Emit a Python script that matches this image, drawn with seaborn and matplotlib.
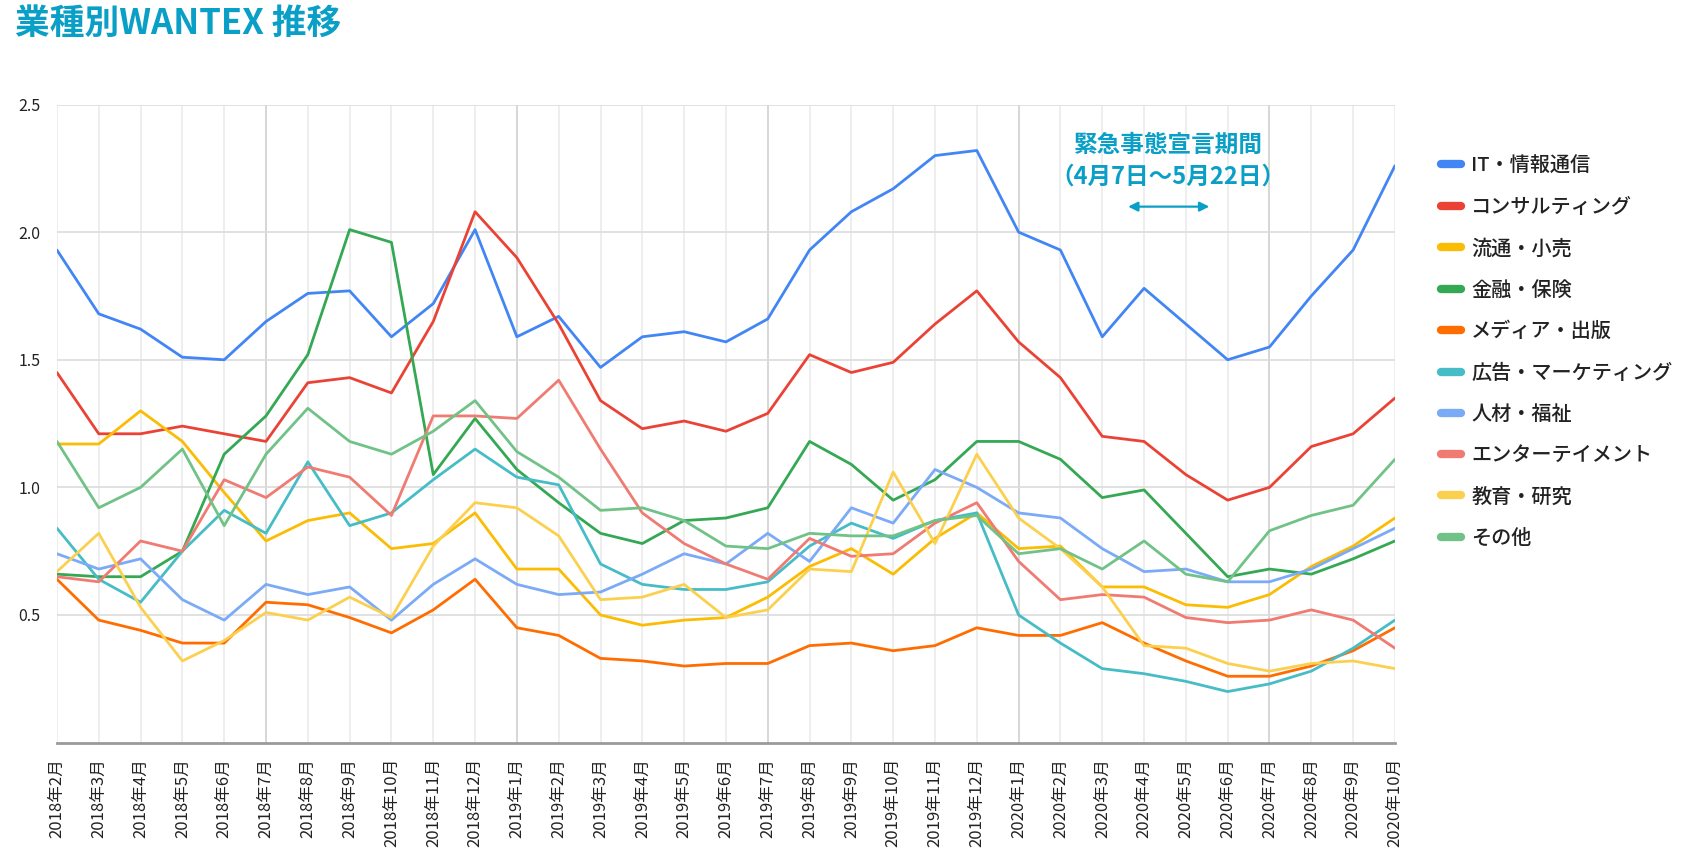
import pandas as pd
import matplotlib.pyplot as plt
import seaborn as sns

# ----------------------------------------------------------
# Data
# ----------------------------------------------------------
months = [
    "2018年2月", "2018年3月", "2018年4月", "2018年5月", "2018年6月", "2018年7月",
    "2018年8月", "2018年9月", "2018年10月", "2018年11月", "2018年12月",
    "2019年1月", "2019年2月", "2019年3月", "2019年4月", "2019年5月", "2019年6月",
    "2019年7月", "2019年8月", "2019年9月", "2019年10月", "2019年11月", "2019年12月",
    "2020年1月", "2020年2月", "2020年3月", "2020年4月", "2020年5月", "2020年6月",
    "2020年7月", "2020年8月", "2020年9月", "2020年10月",
]

it_info = [1.93, 1.68, 1.62, 1.51, 1.50, 1.65, 1.76, 1.77, 1.59, 1.72, 2.01,
           1.59, 1.67, 1.47, 1.59, 1.61, 1.57, 1.66, 1.93, 2.08, 2.17, 2.30, 2.32,
           2.00, 1.93, 1.59, 1.78, 1.64, 1.50, 1.55, 1.75, 1.93, 2.26]
consulting = [1.45, 1.21, 1.21, 1.24, 1.21, 1.18, 1.41, 1.43, 1.37, 1.65, 2.08,
              1.90, 1.64, 1.34, 1.23, 1.26, 1.22, 1.29, 1.52, 1.45, 1.49, 1.64, 1.77,
              1.57, 1.43, 1.20, 1.18, 1.05, 0.95, 1.00, 1.16, 1.21, 1.35]
retail = [1.17, 1.17, 1.30, 1.18, 0.98, 0.79, 0.87, 0.90, 0.76, 0.78, 0.90,
          0.68, 0.68, 0.50, 0.46, 0.48, 0.49, 0.57, 0.69, 0.76, 0.66, 0.80, 0.90,
          0.76, 0.77, 0.61, 0.61, 0.54, 0.53, 0.58, 0.69, 0.77, 0.88]
finance = [0.66, 0.65, 0.65, 0.75, 1.13, 1.28, 1.52, 2.01, 1.96, 1.05, 1.27,
           1.07, 0.94, 0.82, 0.78, 0.87, 0.88, 0.92, 1.18, 1.09, 0.95, 1.03, 1.18,
           1.18, 1.11, 0.96, 0.99, 0.82, 0.65, 0.68, 0.66, 0.72, 0.79]
media = [0.64, 0.48, 0.44, 0.39, 0.39, 0.55, 0.54, 0.49, 0.43, 0.52, 0.64,
         0.45, 0.42, 0.33, 0.32, 0.30, 0.31, 0.31, 0.38, 0.39, 0.36, 0.38, 0.45,
         0.42, 0.42, 0.47, 0.39, 0.32, 0.26, 0.26, 0.30, 0.36, 0.45]
marketing = [0.84, 0.64, 0.55, 0.75, 0.91, 0.82, 1.10, 0.85, 0.90, 1.03, 1.15,
             1.04, 1.01, 0.70, 0.62, 0.60, 0.60, 0.63, 0.77, 0.86, 0.80, 0.87, 0.90,
             0.50, 0.39, 0.29, 0.27, 0.24, 0.20, 0.23, 0.28, 0.37, 0.48]
hr_welfare = [0.74, 0.68, 0.72, 0.56, 0.48, 0.62, 0.58, 0.61, 0.48, 0.62, 0.72,
              0.62, 0.58, 0.59, 0.66, 0.74, 0.70, 0.82, 0.71, 0.92, 0.86, 1.07, 1.00,
              0.90, 0.88, 0.76, 0.67, 0.68, 0.63, 0.63, 0.68, 0.76, 0.84]
entertainment = [0.65, 0.63, 0.79, 0.75, 1.03, 0.96, 1.08, 1.04, 0.89, 1.28, 1.28,
                 1.27, 1.42, 1.15, 0.90, 0.78, 0.70, 0.64, 0.80, 0.73, 0.74, 0.86, 0.94,
                 0.71, 0.56, 0.58, 0.57, 0.49, 0.47, 0.48, 0.52, 0.48, 0.37]
education = [0.67, 0.82, 0.53, 0.32, 0.40, 0.51, 0.48, 0.57, 0.49, 0.77, 0.94,
             0.92, 0.81, 0.56, 0.57, 0.62, 0.49, 0.52, 0.68, 0.67, 1.06, 0.78, 1.13,
             0.88, 0.76, 0.61, 0.38, 0.37, 0.31, 0.28, 0.31, 0.32, 0.29]
others = [1.18, 0.92, 1.00, 1.15, 0.85, 1.13, 1.31, 1.18, 1.13, 1.22, 1.34,
          1.14, 1.04, 0.91, 0.92, 0.87, 0.77, 0.76, 0.82, 0.81, 0.81, 0.87, 0.89,
          0.74, 0.76, 0.68, 0.79, 0.66, 0.63, 0.83, 0.89, 0.93, 1.11]

industries = ["IT・情報通信", "コンサルティング", "流通・小売", "金融・保険", "メディア・出版",
              "広告・マーケティング", "人材・福祉", "エンターテイメント", "教育・研究", "その他"]
series = [it_info, consulting, retail, finance, media,
          marketing, hr_welfare, entertainment, education, others]
colors = ["#4285F4", "#EA4335", "#FBBC04", "#34A853", "#FF6D01",
          "#46BDC6", "#7BAAF7", "#F07B72", "#FCD04F", "#71C287"]

# long-form table for seaborn
rows = []
for name, vals in zip(industries, series):
    for i, v in enumerate(vals):
        rows.append({"month_idx": i, "industry": name, "value": v})
df = pd.DataFrame(rows)

ACCENT = "#0A9FC6"

# ----------------------------------------------------------
# Plot
# ----------------------------------------------------------
sns.set_style("white")
plt.rcParams["font.family"] = ["Noto Sans CJK JP", "DejaVu Sans"]

fig = plt.figure(figsize=(16.9, 8.64), dpi=100)
ax = fig.add_axes([0.0337, 0.1405, 0.7917, 0.7385])

sns.lineplot(data=df, x="month_idx", y="value", hue="industry",
             hue_order=industries, palette=colors, linewidth=2.0, ax=ax)

ax.set_xlim(0, len(months) - 1)
ax.set_ylim(0, 2.5)
ax.set_yticks([0.5, 1.0, 1.5, 2.0, 2.5])
ax.set_yticklabels(["0.5", "1.0", "1.5", "2.0", "2.5"])
ax.set_xticks(range(len(months)))
ax.set_xticklabels(months, rotation=90, va="top", ha="center")
ax.tick_params(axis="x", length=0, pad=11, labelsize=12, colors="#222222")
ax.tick_params(axis="y", length=0, pad=12, labelsize=11.5, colors="#222222")
ax.set_xlabel("")
ax.set_ylabel("")

# grid: light monthly lines, darker every 6 months
for i in range(len(months)):
    major = (i - 5) % 6 == 0
    ax.axvline(i, color="#cfcfcf" if major else "#ebebeb", lw=1.2, zorder=0)
for y in [0.5, 1.0, 1.5, 2.0, 2.5]:
    ax.axhline(y, color="#dcdcdc", lw=1.2, zorder=0)

for s in ["top", "right", "left"]:
    ax.spines[s].set_visible(False)
ax.spines["bottom"].set_color("#9a9a9a")
ax.spines["bottom"].set_linewidth(2)

# emergency declaration annotation
ax.text(26.58, 2.343, "緊急事態宣言期間", color=ACCENT, fontsize=17,
        fontweight="bold", ha="center", va="center")
ax.text(26.58, 2.218, "（4月7日〜5月22日）", color=ACCENT, fontsize=17,
        fontweight="bold", ha="center", va="center")
ax.annotate("", xy=(25.62, 2.10), xytext=(27.56, 2.10),
            arrowprops=dict(arrowstyle="<|-|>", color=ACCENT, lw=1.6,
                            mutation_scale=14, shrinkA=0, shrinkB=0))

# legend on the right
leg = ax.legend(loc="upper left", bbox_to_anchor=(0.842, 0.840),
                bbox_transform=fig.transFigure, frameon=False,
                fontsize=14.5, handlelength=1.0, handletextpad=0.5,
                labelspacing=1.1)
for line in leg.get_lines():
    line.set_linewidth(6)
for t in leg.get_texts():
    t.set_color("#222222")
    t.set_fontweight("medium")

fig.text(0.009, 0.9726, "業種別WANTEX 推移", color=ACCENT, fontsize=25,
         fontweight="bold", ha="left", va="center")

plt.savefig("out.png", dpi=100)
